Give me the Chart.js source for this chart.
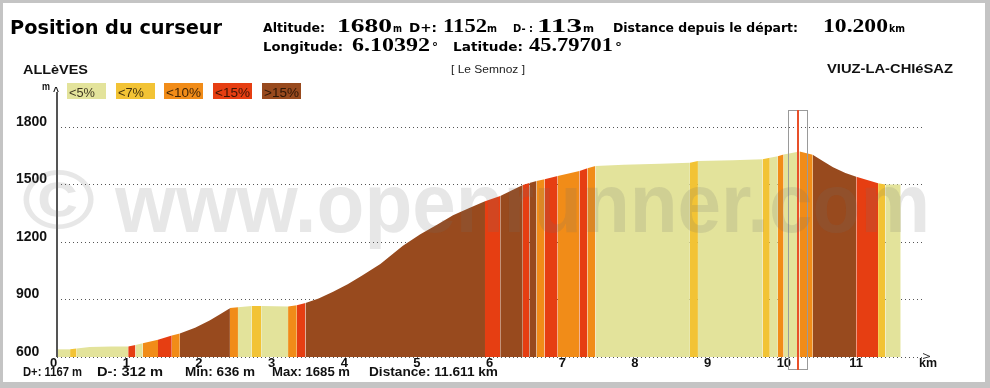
<!DOCTYPE html>
<html>
<head>
<meta charset="utf-8">
<script src="https://cdn.jsdelivr.net/npm/chart.js@4.4.0/dist/chart.umd.min.js"></script>
<style>
  body { margin: 0; background: #fff; }
  canvas { display: block; }
</style>
</head>
<body>
<canvas id="chart" width="990" height="388"></canvas>
<script>
// profile points: distance (km), altitude (m), slope class of the stretch that starts there
const kmPoints = [0, 0.18, 0.27, 0.45, 0.75, 0.98, 1.08, 1.18, 1.39, 1.58, 1.69, 1.90, 2.10, 2.25,
    2.38, 2.49, 2.68, 2.81, 3.18, 3.30, 3.42, 3.60, 3.80, 4.00, 4.20, 4.45, 4.76, 5.00, 5.23, 5.45, 5.69,
    5.89, 6.10, 6.41, 6.50, 6.60, 6.71, 6.89, 7.19, 7.30, 7.41, 7.80, 8.30, 8.71, 8.82, 9.30, 9.71, 9.81,
    9.92, 10.00, 10.22, 10.40, 10.55, 10.68, 10.85, 11.00, 11.30, 11.40, 11.611];
const altPoints = [640, 640, 645, 652, 655, 655, 663, 672, 690, 712, 722, 752, 790, 825,
    855, 860, 866, 866, 864, 870, 882, 905, 940, 980, 1025, 1085, 1180, 1240, 1290, 1340, 1380,
    1412, 1440, 1498, 1508, 1518, 1527, 1545, 1570, 1585, 1597, 1603, 1608, 1614, 1622, 1626, 1632, 1640,
    1648, 1656, 1672, 1655, 1620, 1590, 1560, 1540, 1507, 1500, 1500];
const slopeClass = [0, 1, 0, 0, 0, 3, 0, 2, 3, 2, 4, 4, 4, 4,
    2, 0, 1, 0, 2, 3, 4, 4, 4, 4, 4, 4, 4, 4, 4, 4, 4,
    3, 4, 3, 4, 2, 3, 2, 3, 2, 0, 0, 0, 1, 0, 0, 1, 0,
    2, 0, 2, 4, 4, 4, 4, 3, 1, 0, 0];

const slopeLabels = ['<5%', '<7%', '<10%', '<15%', '>15%'];
const kmTicks = [0, 1, 2, 3, 4, 5, 6, 7, 8, 9, 10, 11];
const altTicks = [600, 900, 1200, 1500, 1800];

const slopeColors = ['#e3e39b', '#f2c335', '#f18c18', '#e63e12', '#984a1e'];

// header / footer texts
const cursorInfo = { alt: '1680', dplus: '1152', dminus: '113', dist: '10.200', lon: '6.10392', lat: '45.79701' };
const startName = 'ALLèVES';
const endName = 'VIUZ-LA-CHIéSAZ';
const passName = '[ Le Semnoz ]';
const cursorKm = 10.2;
const footer = ['D+: 1167 m', 'D-: 312 m', 'Min: 636 m', 'Max: 1685 m', 'Distance: 11.611 km'];

const points = kmPoints.map((k, i) => ({ x: k, y: altPoints[i] }));

// draws text squeezed/stretched to a given width
function fitText(ctx, text, x, y, w, font, color) {
    ctx.save();
    ctx.font = font;
    ctx.fillStyle = color || '#000';
    ctx.textAlign = 'left';
    ctx.textBaseline = 'alphabetic';
    const m = ctx.measureText(text).width;
    ctx.translate(x, y);
    ctx.scale(w / m, 1);
    ctx.fillText(text, 0, 0);
    ctx.restore();
}

const SANSB = '"DejaVu Sans", sans-serif';
const ARIAL = '"Liberation Sans", Arial, sans-serif';
const SERIF = '"Liberation Serif", serif';

const decor = {
    id: 'decor',
    beforeDraw(chart) {
        const ctx = chart.ctx;
        ctx.save();
        ctx.fillStyle = '#fff';
        ctx.fillRect(0, 0, chart.width, chart.height);
        ctx.restore();
    },
    afterDatasetsDraw(chart) {
        const ctx = chart.ctx;
        const xs = chart.scales.x;
        const area = chart.chartArea;

        // cursor box + line
        const cx = Math.round(xs.getPixelForValue(cursorKm));
        ctx.save();
        ctx.strokeStyle = '#9a9a9a';
        ctx.lineWidth = 1;
        ctx.strokeRect(cx - 9.5, 110.5, 19, 259);
        ctx.strokeStyle = '#e8502a';
        ctx.lineWidth = 2;
        ctx.beginPath();
        ctx.moveTo(cx, 110);
        ctx.lineTo(cx, 370);
        ctx.stroke();

        // y axis line
        ctx.strokeStyle = '#555';
        ctx.lineWidth = 2;
        ctx.beginPath();
        ctx.moveTo(area.left, 92);
        ctx.lineTo(area.left, area.bottom);
        ctx.stroke();

        // x axis arrow head
        ctx.strokeStyle = '#333';
        ctx.lineWidth = 1;
        ctx.beginPath();
        ctx.moveTo(area.right, 353.5);
        ctx.lineTo(area.right + 7, 356.5);
        ctx.lineTo(area.right, 358.5);
        ctx.stroke();
        ctx.restore();

        fitText(ctx, 'm', 42, 90, 8, 'bold 11px ' + ARIAL, '#111');
        fitText(ctx, '^', 53, 95, 6, 'bold 11px ' + ARIAL, '#111');
        fitText(ctx, 'km', 919, 367, 18, 'bold 13px ' + ARIAL, '#111');

        // watermark
        const wm = 'rgba(110,110,110,0.17)';
        fitText(ctx, '©', 22, 228, 73, 'bold 84px ' + ARIAL, wm);
        fitText(ctx, 'www.openrunner.com', 115, 232, 815, 'bold 84px ' + ARIAL, wm);

        // slope legend
        const boxX = [67, 116, 164, 213, 262];
        slopeLabels.forEach((lab, i) => {
            ctx.fillStyle = slopeColors[i];
            ctx.fillRect(boxX[i], 83, 39, 16);
            fitText(ctx, lab, boxX[i] + 2, 97, lab.length * 9 - 1, '13px ' + ARIAL, 'rgba(20,10,0,0.8)');
        });

        // header
        fitText(ctx, 'Position du curseur', 10, 34, 212, 'bold 20px ' + SANSB, '#000');
        const h1 = 'bold 13px ' + SANSB, num = 'bold 18px ' + SERIF, unit = 'bold 10px ' + SANSB;
        fitText(ctx, 'Altitude:', 263, 32, 62, h1);
        fitText(ctx, cursorInfo.alt, 337, 32, 55, num);
        fitText(ctx, 'm', 393, 32, 9, unit);
        fitText(ctx, 'D+:', 409, 32, 28, h1);
        fitText(ctx, cursorInfo.dplus, 443, 32, 44, num);
        fitText(ctx, 'm', 487, 32, 10, unit);
        fitText(ctx, 'D- :', 513, 32, 20, 'bold 11px ' + SANSB);
        fitText(ctx, cursorInfo.dminus, 537, 32, 45, num);
        fitText(ctx, 'm', 583, 32, 11, unit);
        fitText(ctx, 'Distance depuis le départ:', 613, 32, 185, h1);
        fitText(ctx, cursorInfo.dist, 823, 32, 65, num);
        fitText(ctx, 'km', 889, 32, 16, unit);

        fitText(ctx, 'Longitude:', 263, 51, 80, h1);
        fitText(ctx, cursorInfo.lon, 352, 51, 78, num);
        fitText(ctx, '°', 432, 51, 6, h1);
        fitText(ctx, 'Latitude:', 453, 51, 70, h1);
        fitText(ctx, cursorInfo.lat, 529, 51, 84, num);
        fitText(ctx, '°', 615, 51, 7, h1);

        fitText(ctx, startName, 23, 74, 65, 'bold 12px ' + ARIAL, '#111');
        fitText(ctx, passName, 451, 73, 74, '10px ' + ARIAL, '#222');
        fitText(ctx, endName, 827, 73, 126, 'bold 12px ' + ARIAL, '#111');

        // footer stats
        const fx = [23, 97, 185, 272, 369], fw = [59, 66, 70, 78, 129];
        footer.forEach((t, i) => fitText(ctx, t, fx[i], 376, fw[i], 'bold 13px ' + ARIAL, '#111'));
    },
    afterDraw(chart) {
        // grey frame
        const ctx = chart.ctx;
        ctx.save();
        ctx.fillStyle = '#c4c4c4';
        ctx.fillRect(0, 0, 990, 3);
        ctx.fillRect(0, 0, 3, 388);
        ctx.fillRect(985, 0, 5, 388);
        ctx.fillRect(0, 382, 990, 6);
        ctx.restore();
    }
};

const ctx = document.getElementById('chart').getContext('2d');
const chart = new Chart(ctx, {
    type: 'line',
    data: {
        datasets: [{
            data: points,
            fill: 'start',
            backgroundColor: slopeColors[0],
            borderColor: 'transparent',
            borderWidth: 0,
            pointRadius: 0,
            tension: 0,
            segment: {
                backgroundColor: c => slopeColors[slopeClass[c.p0DataIndex]]
            }
        }]
    },
    options: {
        responsive: false,
        animation: false,
        devicePixelRatio: 1,
        events: [],
        layout: { padding: { left: 16, top: 95, right: 67, bottom: 0 } },
        plugins: { legend: { display: false }, tooltip: { enabled: false } },
        scales: {
            x: {
                type: 'linear',
                min: 0,
                max: 11.918,
                afterBuildTicks: s => { s.ticks = kmTicks.map(v => ({ value: v })); },
                afterFit: s => { s.height = 31; },
                grid: { display: false },
                border: { display: false },
                ticks: {
                    align: 'start',
                    labelOffset: -7,
                    padding: -9,
                    maxRotation: 0,
                    color: '#111',
                    callback: v => String(v),
                    font: { family: ARIAL, weight: 'bold', size: 13 }
                }
            },
            y: {
                min: 600,
                max: 1967,
                afterBuildTicks: s => { s.ticks = altTicks.map(v => ({ value: v })); },
                afterFit: s => { s.width = 41; },
                grid: { color: '#555', lineWidth: 1, drawTicks: false },
                border: { display: false, dash: [1, 3] },
                ticks: {
                    crossAlign: 'far',
                    labelOffset: -5,
                    padding: 7,
                    color: '#111',
                    callback: v => String(v),
                    font: { family: ARIAL, weight: 'bold', size: 14 }
                }
            }
        }
    },
    plugins: [decor]
});
</script>
</body>
</html>
